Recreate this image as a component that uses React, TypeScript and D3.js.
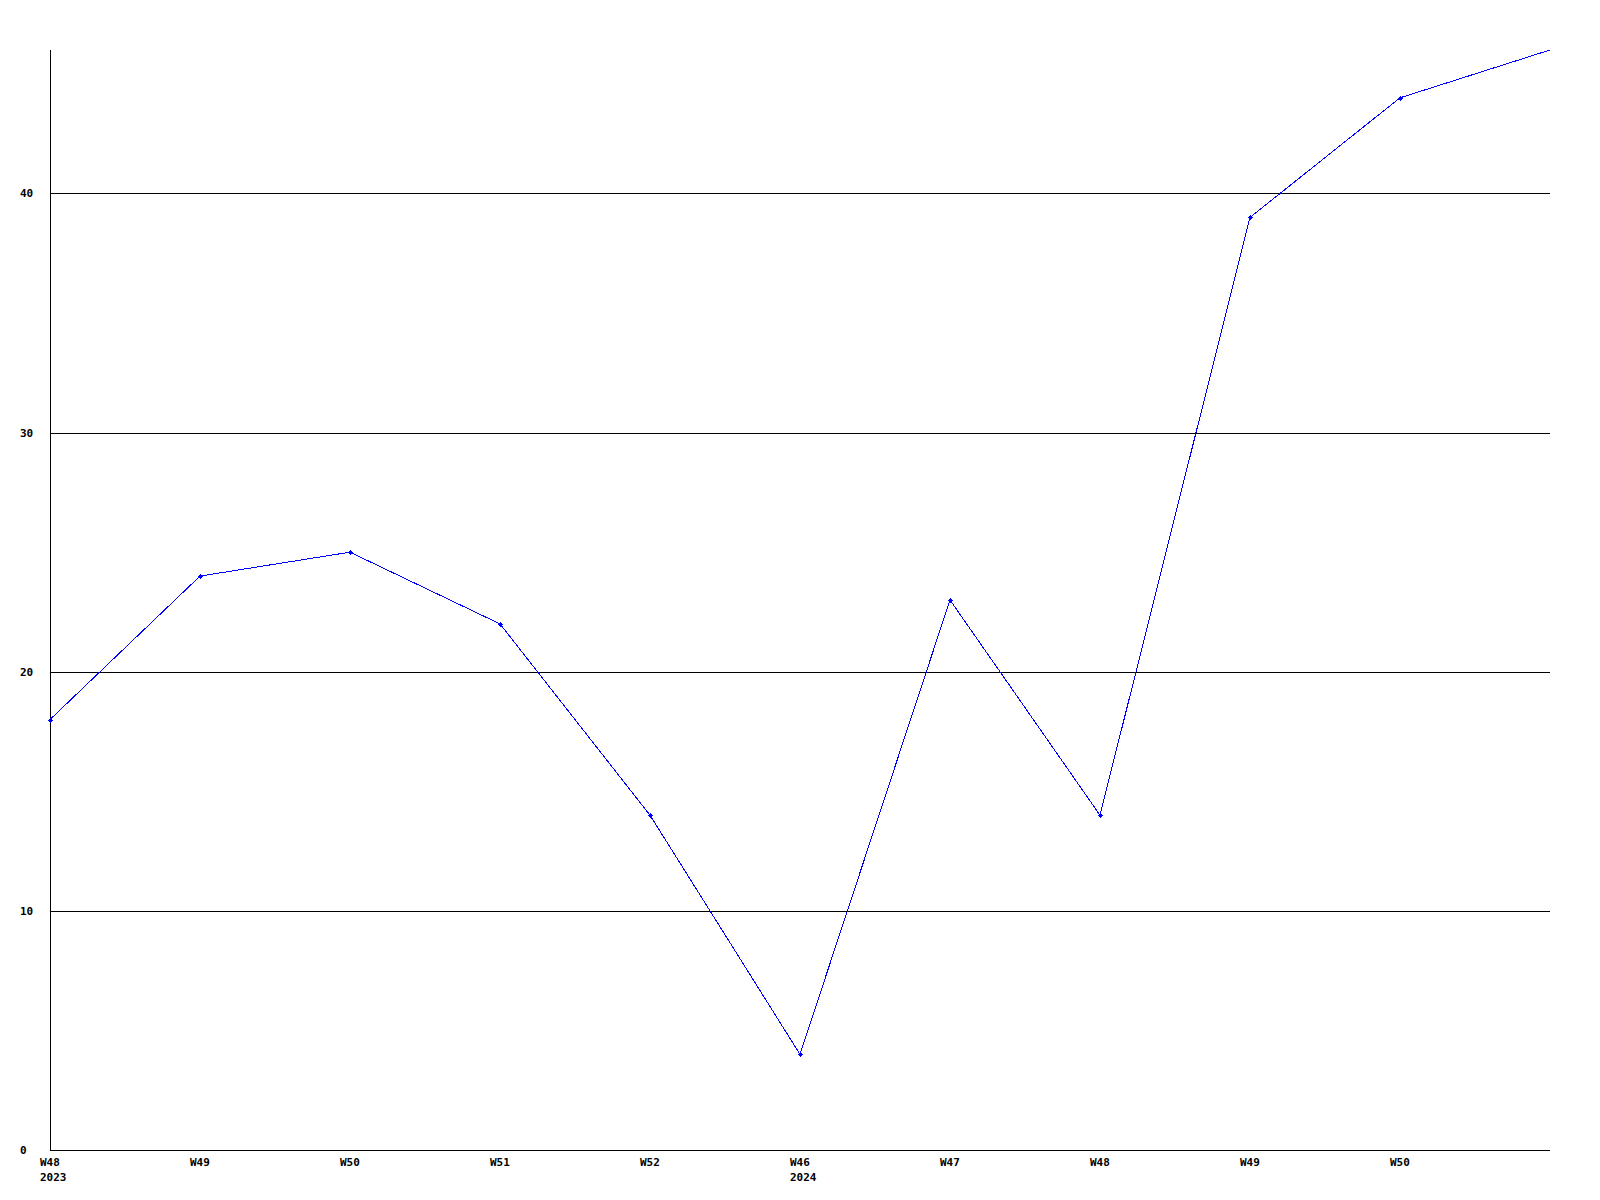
import React from "react";
import * as d3 from "d3";

const weekLabels = ["W48", "W49", "W50", "W51", "W52", "W46", "W47", "W48", "W49", "W50", ""];
const yearLabels = ["2023", "", "", "", "", "2024", "", "", "", "", ""];
const values = [18, 24, 25, 22, 14, 4, 23, 14, 39, 44, 46];
const showMarker = [true, true, true, true, true, true, true, true, true, true, false];
const yTicks = [0, 10, 20, 30, 40];

const W = 1600;
const H = 1200;
const left = 50;
const right = 1550;
const top = 50;
const bottom = 1150;

export default function App() {
  const x = d3.scaleLinear().domain([0, values.length - 1]).range([left, right]);
  const y = d3.scaleLinear().domain([0, 46]).range([bottom, top]);
  const line = d3
    .line<number>()
    .x((_, i) => x(i))
    .y((d) => y(d));
  const font = "'DejaVu Sans Mono', monospace";
  return (
    <svg
      width={W}
      height={H}
      style={{ position: "absolute", left: 0, top: 0, background: "#fff" }}
    >
      <rect x={0} y={0} width={W} height={H} fill="#fff" />
      {yTicks
        .filter((t) => t > 0)
        .map((t) => (
          <line
            key={t}
            x1={left}
            x2={right}
            y1={Math.round(y(t)) + 0.5}
            y2={Math.round(y(t)) + 0.5}
            stroke="#000"
            strokeWidth={1}
            shapeRendering="crispEdges"
          />
        ))}
      <line x1={left + 0.5} x2={left + 0.5} y1={top} y2={bottom} stroke="#000" shapeRendering="crispEdges" />
      <line x1={left} x2={right} y1={bottom + 0.5} y2={bottom + 0.5} stroke="#000" shapeRendering="crispEdges" />
      {yTicks.map((t) => (
        <text
          key={t}
          x={20}
          y={Math.round(y(t))}
          dy="0.35em"
          fontFamily={font}
          fontWeight="bold"
          fontSize={11}
          fill="#000"
        >
          {t}
        </text>
      ))}
      {weekLabels.map((lab, i) => (
        <g key={i}>
          {lab && (
            <text x={x(i) - 10} y={1166} fontFamily={font} fontWeight="bold" fontSize={11} fill="#000">
              {lab}
            </text>
          )}
          {yearLabels[i] && (
            <text x={x(i) - 10} y={1181} fontFamily={font} fontWeight="bold" fontSize={11} fill="#000">
              {yearLabels[i]}
            </text>
          )}
        </g>
      ))}
      <path d={line(values) || ""} fill="none" stroke="#0000ff" strokeWidth={1} shapeRendering="crispEdges" />
      {values.map((v, i) =>
        showMarker[i] ? (
          <path
            key={i}
            transform={`translate(${x(i) + 0.5},${Math.round(y(v)) + 0.5})`}
            d="M0,-2.5L2.5,0L0,2.5L-2.5,0Z"
            fill="#0000ff"
            shapeRendering="crispEdges"
          />
        ) : null
      )}
    </svg>
  );
}
